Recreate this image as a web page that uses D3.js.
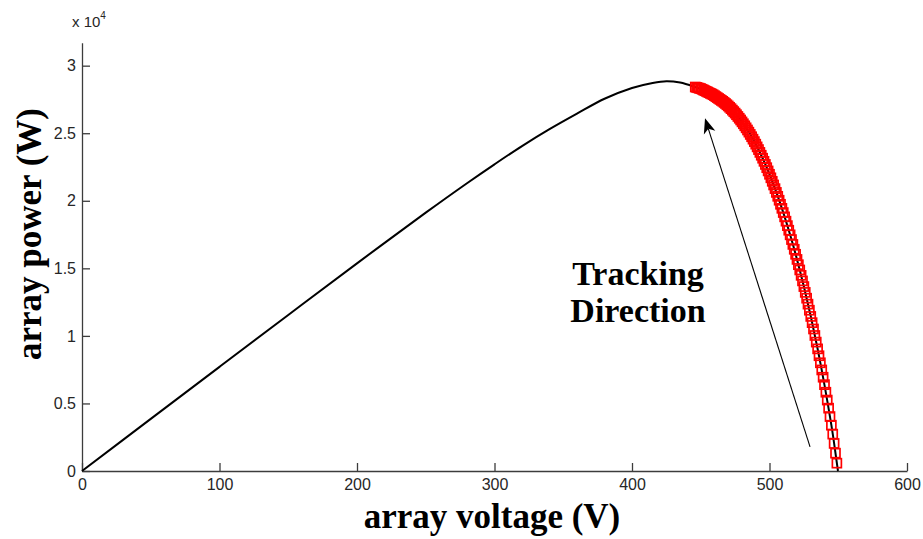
<!DOCTYPE html>
<html>
<head>
<meta charset="utf-8">
<script src="https://cdn.jsdelivr.net/npm/d3@7"></script>
<style>
  html, body { margin: 0; padding: 0; background: #fff; }
  svg { display: block; }
</style>
</head>
<body>
<svg id="chart" width="923" height="539"></svg>
<script>
// P-V characteristic of the PV array (power in units of 1e4 W)
const curveVoltage = [0, 50, 100, 150, 200, 250, 280, 300, 320, 340, 360, 380, 400, 415, 425, 435, 445, 455, 465, 475, 485, 495, 505, 515, 525, 535, 545, 549, 549.8];
const curvePower   = [0, 0.386, 0.771, 1.155, 1.537, 1.912, 2.13, 2.27, 2.405, 2.53, 2.645, 2.755, 2.835, 2.872, 2.885, 2.875, 2.845, 2.805, 2.743, 2.649, 2.508, 2.315, 2.062, 1.748, 1.365, 0.904, 0.339, 0.058, 0];

// Operating points visited by the tracker (one per step)
const trackVoltage = [
  446, 447, 448, 449, 450, 451, 452, 453, 454, 455, 456, 457, 458, 459, 460, 461, 462, 463, 464, 465,
  466, 467, 468, 469, 470, 471, 472, 473, 474, 475, 476, 477, 478, 479, 480, 481, 482, 483, 484, 485,
  486, 487, 488, 489, 490, 491, 492, 493, 494, 495, 496, 497, 498, 499, 500, 501, 502, 503, 504, 505,
  506, 507, 508, 509, 510, 511, 512, 513, 514, 515, 516, 517, 518, 519, 520, 521, 522, 523, 524, 525,
  526, 527, 528, 529, 530, 531, 532, 533, 534, 535, 536, 537, 538, 539, 540, 541, 542, 543, 544, 545,
  546, 547, 548, 549
];
const trackPower = [
  2.842, 2.839, 2.836, 2.833, 2.830, 2.825, 2.820, 2.815, 2.810, 2.805, 2.800, 2.795, 2.790, 2.785, 2.778, 2.771, 2.764, 2.757, 2.750, 2.743,
  2.736, 2.728, 2.720, 2.711, 2.702, 2.692, 2.682, 2.671, 2.660, 2.649, 2.637, 2.624, 2.611, 2.598, 2.584, 2.570, 2.555, 2.540, 2.524, 2.508,
  2.491, 2.474, 2.456, 2.438, 2.419, 2.399, 2.379, 2.358, 2.337, 2.315, 2.292, 2.269, 2.245, 2.221, 2.196, 2.170, 2.144, 2.117, 2.090, 2.062,
  2.033, 2.004, 1.974, 1.944, 1.913, 1.881, 1.849, 1.816, 1.782, 1.748, 1.713, 1.677, 1.641, 1.604, 1.566, 1.527, 1.488, 1.448, 1.407, 1.365,
  1.322, 1.279, 1.235, 1.190, 1.144, 1.098, 1.051, 1.003, 0.954, 0.904, 0.853, 0.801, 0.748, 0.694, 0.639, 0.583, 0.525, 0.465, 0.403, 0.339,
  0.273, 0.204, 0.132, 0.058
];

// Axis ticks
const xTicks = [0, 100, 200, 300, 400, 500, 600];
const xTickLabels = ["0", "100", "200", "300", "400", "500", "600"];
const yTicks = [0, 0.5, 1, 1.5, 2, 2.5, 3];
const yTickLabels = ["0", "0.5", "1", "1.5", "2", "2.5", "3"];

// Tracking-direction arrow (tail -> head, data units)
const arrowFrom = [529.5, 0.178];
const arrowTo = [453.1, 2.61];

const svg = d3.select("#chart");

const x = d3.scaleLinear().domain([0, 600]).range([82, 907]);
const y = d3.scaleLinear().domain([0, 3.17]).range([471, 42.7]);

const axisColor = "#3c3c3c";
const tickFont = "Liberation Sans, Arial, sans-serif";

// X axis
const gx = svg.append("g")
  .attr("transform", `translate(0,${y(0)})`)
  .call(d3.axisBottom(x)
    .tickValues(xTicks)
    .tickFormat((d, i) => xTickLabels[i])
    .tickSizeInner(-8)
    .tickSizeOuter(0)
    .tickPadding(8));

// Y axis
const gy = svg.append("g")
  .attr("transform", `translate(${x(0)},0)`)
  .call(d3.axisLeft(y)
    .tickValues(yTicks)
    .tickFormat((d, i) => yTickLabels[i])
    .tickSizeInner(-8)
    .tickSizeOuter(0)
    .tickPadding(6));

[gx, gy].forEach(g => {
  g.select(".domain").attr("stroke", axisColor).attr("stroke-width", 1.3);
  g.selectAll(".tick line").attr("stroke", axisColor).attr("stroke-width", 1.3);
  g.selectAll(".tick text")
    .attr("fill", "#262626")
    .style("font-family", tickFont)
    .style("font-size", "16px");
});

// Exponent label
const expo = svg.append("text")
  .attr("x", 72)
  .attr("y", 27)
  .attr("fill", "#262626")
  .style("font-family", tickFont)
  .style("font-size", "15px");
expo.append("tspan").text("x 10");
expo.append("tspan").attr("dy", -8).style("font-size", "10px").text("4");

// P-V curve
const line = d3.line()
  .x(d => x(d[0]))
  .y(d => y(d[1]))
  .curve(d3.curveCatmullRom.alpha(0.5));

svg.append("path")
  .datum(curveVoltage.map((v, i) => [v, curvePower[i]]))
  .attr("fill", "none")
  .attr("stroke", "#000")
  .attr("stroke-width", 2)
  .attr("d", line);

// Tracker operating points
const sq = 9;
svg.append("g")
  .selectAll("rect")
  .data(trackVoltage.map((v, i) => [v, trackPower[i]]))
  .join("rect")
  .attr("x", d => x(d[0]) - sq / 2)
  .attr("y", d => y(d[1]) - sq / 2)
  .attr("width", sq)
  .attr("height", sq)
  .attr("fill", "none")
  .attr("stroke", "#ff0000")
  .attr("stroke-width", 1.7);

// Arrow
const ax0 = x(arrowFrom[0]), ay0 = y(arrowFrom[1]);
const ax1 = x(arrowTo[0]), ay1 = y(arrowTo[1]);
const ang = Math.atan2(ay1 - ay0, ax1 - ax0);
const headLen = 15, headHalf = 6, notch = 4;
svg.append("line")
  .attr("x1", ax0).attr("y1", ay0)
  .attr("x2", ax1 - Math.cos(ang) * (headLen - notch))
  .attr("y2", ay1 - Math.sin(ang) * (headLen - notch))
  .attr("stroke", "#000")
  .attr("stroke-width", 1.1);
const px = -Math.sin(ang), py = Math.cos(ang);
const bx = ax1 - Math.cos(ang) * headLen, by = ay1 - Math.sin(ang) * headLen;
const nx = ax1 - Math.cos(ang) * (headLen - notch), ny = ay1 - Math.sin(ang) * (headLen - notch);
svg.append("path")
  .attr("d", `M${ax1},${ay1} L${bx + px * headHalf},${by + py * headHalf} L${nx},${ny} L${bx - px * headHalf},${by - py * headHalf} Z`)
  .attr("fill", "#000");

// Annotation text
const serif = "Liberation Serif, Times New Roman, serif";
const note = svg.append("text")
  .attr("text-anchor", "middle")
  .attr("fill", "#000")
  .style("font-family", serif)
  .style("font-weight", "bold")
  .style("font-size", "34px");
note.append("tspan").attr("x", 638).attr("y", 285).text("Tracking");
note.append("tspan").attr("x", 638).attr("y", 322).text("Direction");

// Axis titles
svg.append("text")
  .attr("x", 492)
  .attr("y", 528)
  .attr("text-anchor", "middle")
  .attr("fill", "#000")
  .style("font-family", serif)
  .style("font-weight", "bold")
  .style("font-size", "35px")
  .text("array voltage (V)");

svg.append("text")
  .attr("transform", "translate(41,234) rotate(-90)")
  .attr("text-anchor", "middle")
  .attr("fill", "#000")
  .style("font-family", serif)
  .style("font-weight", "bold")
  .style("font-size", "35px")
  .text("array power (W)");
</script>
</body>
</html>
